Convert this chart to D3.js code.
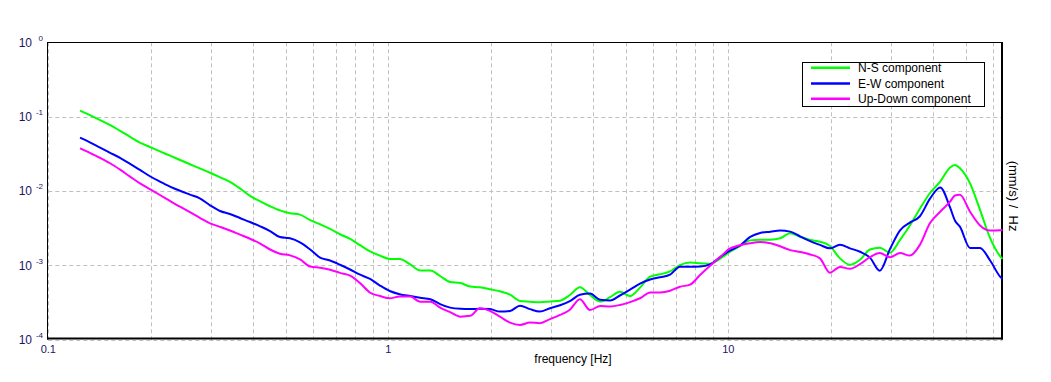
<!DOCTYPE html>
<html>
<head>
<meta charset="utf-8">
<script src="https://cdn.jsdelivr.net/npm/d3@7"></script>
<style>
  body { margin: 0; background: #fff; }
  text { font-family: Arial, "Liberation Sans", sans-serif; }
</style>
</head>
<body>
<svg id="chart" width="1051" height="382"></svg>
<script>
// frequencies shared by the three spectra [Hz]
const freq = [0.124, 0.133, 0.142, 0.152, 0.163, 0.174, 0.186, 0.199, 0.213, 0.228,
  0.244, 0.261, 0.279, 0.299, 0.320, 0.342, 0.366, 0.392, 0.420, 0.449,
  0.480, 0.514, 0.550, 0.589, 0.630, 0.674, 0.721, 0.772, 0.826, 0.884,
  0.945, 1.01, 1.08, 1.16, 1.24, 1.33, 1.42, 1.52, 1.63, 1.74,
  1.86, 1.99, 2.13, 2.28, 2.44, 2.61, 2.79, 2.99, 3.20, 3.42,
  3.66, 3.92, 4.20, 4.49, 4.80, 5.14, 5.50, 5.89, 6.30, 6.74,
  7.21, 7.72, 8.26, 8.84, 9.46, 10.1, 10.8, 11.6, 12.4, 13.3,
  14.2, 15.2, 16.3, 17.4, 18.6, 19.9, 21.3, 22.8, 24.4, 26.1,
  27.9, 29.9, 32.0, 34.2, 36.6, 39.2, 42.0, 44.9, 46.4, 48.0,
  51.4, 55.0, 58.9, 63.0, 64.0];

// N-S component (mm/s)/Hz
const nsValues = [0.120, 0.104, 0.0896, 0.0765, 0.0637, 0.0532, 0.0445, 0.0389, 0.0339, 0.0297,
  0.0260, 0.0228, 0.0200, 0.0175, 0.0152, 0.0132, 0.0108, 0.00856, 0.00720, 0.00620,
  0.00545, 0.00499, 0.00478, 0.00402, 0.00354, 0.00308, 0.00260, 0.00225, 0.00185, 0.00153,
  0.00134, 0.00121, 0.00121, 0.00102, 0.000845, 0.000842, 0.000712, 0.000591, 0.000573, 0.000513,
  0.000502, 0.000472, 0.000443, 0.000399, 0.000328, 0.000321, 0.000315, 0.000323, 0.000331, 0.000395,
  0.000502, 0.000395, 0.000322, 0.000369, 0.000438, 0.000381, 0.000497, 0.000697, 0.000751, 0.000821,
  0.00100, 0.00108, 0.00106, 0.00104, 0.00122, 0.00150, 0.00178, 0.00215, 0.00220, 0.00220,
  0.00229, 0.00268, 0.00239, 0.00218, 0.00206, 0.00181, 0.00123, 0.00101, 0.00118, 0.00162,
  0.00171, 0.00147, 0.00218, 0.00341, 0.00574, 0.00934, 0.0133, 0.0206, 0.0223, 0.0201,
  0.0126, 0.00553, 0.00231, 0.00132, 0.00121];

// E-W component
const ewValues = [0.0519, 0.0445, 0.0381, 0.0325, 0.0276, 0.0231, 0.0191, 0.0157, 0.0133, 0.0114,
  0.0100, 0.00889, 0.00793, 0.00638, 0.00535, 0.00487, 0.00430, 0.00380, 0.00332, 0.00287,
  0.00238, 0.00229, 0.00202, 0.00162, 0.00126, 0.00115, 0.00101, 0.000871, 0.000741, 0.000649,
  0.000530, 0.000447, 0.000405, 0.000382, 0.000363, 0.000346, 0.000298, 0.000267, 0.000257, 0.000255,
  0.000258, 0.000255, 0.000236, 0.000241, 0.000283, 0.000255, 0.000236, 0.000262, 0.000287, 0.000326,
  0.000398, 0.000413, 0.000340, 0.000334, 0.000389, 0.000466, 0.000561, 0.000639, 0.000684, 0.000741,
  0.000950, 0.000950, 0.000956, 0.00102, 0.00128, 0.00156, 0.00182, 0.00239, 0.00270, 0.00281,
  0.00291, 0.00282, 0.00242, 0.00210, 0.00187, 0.00168, 0.00187, 0.00168, 0.00151, 0.00126,
  0.000839, 0.00165, 0.00294, 0.00372, 0.00454, 0.00785, 0.0111, 0.00596, 0.00399, 0.00329,
  0.00170, 0.00170, 0.00115, 0.000699, 0.000649];

// Up-Down component
const udValues = [0.0374, 0.0322, 0.0278, 0.0235, 0.0191, 0.0155, 0.0126, 0.0105, 0.00878, 0.00731,
  0.00611, 0.00515, 0.00433, 0.00365, 0.00327, 0.00292, 0.00257, 0.00226, 0.00195, 0.00162,
  0.00142, 0.00135, 0.00119, 0.000956, 0.000921, 0.000866, 0.000784, 0.000719, 0.000571, 0.000424,
  0.000383, 0.000357, 0.000377, 0.000377, 0.000321, 0.000321, 0.000267, 0.000232, 0.000202, 0.000207,
  0.000262, 0.000242, 0.000202, 0.000168, 0.000156, 0.000168, 0.000165, 0.000187, 0.000213, 0.000250,
  0.000346, 0.000248, 0.000281, 0.000277, 0.000290, 0.000317, 0.000357, 0.000426, 0.000428, 0.000451,
  0.000511, 0.000544, 0.000735, 0.000977, 0.00128, 0.00166, 0.00185, 0.00197, 0.00204, 0.00196,
  0.00179, 0.00159, 0.00150, 0.00139, 0.00123, 0.000789, 0.000944, 0.000890, 0.00103, 0.00128,
  0.00145, 0.00127, 0.00145, 0.00134, 0.00187, 0.00368, 0.00523, 0.00713, 0.00865, 0.00883,
  0.00523, 0.00341, 0.00292, 0.00294, 0.00296];

const seriesNames = ["N-S component", "E-W component", "Up-Down component"];
const seriesColors = ["#00ff00", "#0000ff", "#ff00ff"];
const xTickValues = [0.1, 1, 10];
const xTickLabels = ["0.1", "1", "10"];
const yExponents = [0, -1, -2, -3, -4];

const svg = d3.select("#chart");
const plot = { left: 48.3, right: 1002.4, top: 42.3, bottom: 339.3 };

const x = d3.scaleLog().domain([0.1, 64]).range([plot.left, plot.right]);
const y = d3.scaleLog().domain([1e-4, 1]).range([plot.bottom, plot.top]);

svg.append("rect").attr("width", 1051).attr("height", 382).attr("fill", "#fff");

// grille pointillée
const grid = svg.append("g")
  .attr("stroke", "#c0c0c0")
  .attr("stroke-width", 1)
  .attr("stroke-dasharray", "4,3");

grid.selectAll("line.vx")
  .data(x.ticks())
  .enter().append("line")
  .attr("class", "vx")
  .attr("x1", d => Math.round(x(d)) + 0.5)
  .attr("x2", d => Math.round(x(d)) + 0.5)
  .attr("y1", plot.top)
  .attr("y2", plot.bottom + 1);

grid.selectAll("line.hy")
  .data(yExponents.map(e => Math.pow(10, e)).filter(v => v < 1))
  .enter().append("line")
  .attr("class", "hy")
  .attr("x1", plot.left)
  .attr("x2", plot.right)
  .attr("y1", d => Math.round(y(d)) + 0.5 + (d === 1e-4 ? 1 : 0))
  .attr("y2", d => Math.round(y(d)) + 0.5 + (d === 1e-4 ? 1 : 0));

// frame
const frame = svg.append("g").attr("stroke", "#000").attr("fill", "none");
frame.append("line").attr("x1", 47.5).attr("x2", 1002).attr("y1", 42.5).attr("y2", 42.5).attr("stroke-width", 1);
frame.append("line").attr("x1", 47.5).attr("x2", 47.5).attr("y1", 42).attr("y2", 339.5).attr("stroke-width", 1);
frame.append("line").attr("x1", 1002).attr("x2", 1002).attr("y1", 42).attr("y2", 339.5).attr("stroke-width", 2);
frame.append("line").attr("x1", 47).attr("x2", 1003).attr("y1", 338.5).attr("y2", 338.5).attr("stroke-width", 2);

// curves
const line = d3.line()
  .x(d => x(d[0]))
  .y(d => y(d[1]))
  .curve(d3.curveMonotoneX);

[nsValues, ewValues, udValues].forEach((vals, i) => {
  svg.append("path")
    .datum(freq.map((f, j) => [f, vals[j]]))
    .attr("fill", "none")
    .attr("stroke", seriesColors[i])
    .attr("stroke-width", 2)
    .attr("stroke-linejoin", "round")
    .attr("d", line);
});

// axis labels
const tickColor = "#1e1466";
svg.selectAll("text.xt")
  .data(xTickValues)
  .enter().append("text")
  .attr("class", "xt")
  .attr("x", d => x(d))
  .attr("y", 353)
  .attr("text-anchor", "middle")
  .attr("font-size", 11)
  .attr("fill", tickColor)
  .text((d, i) => xTickLabels[i]);

const yt = svg.selectAll("g.yt")
  .data(yExponents)
  .enter().append("g")
  .attr("class", "yt")
  .attr("transform", d => `translate(0,${y(Math.pow(10, d))})`);
yt.append("text")
  .attr("x", 32)
  .attr("y", 4.5)
  .attr("text-anchor", "end")
  .attr("font-size", 12)
  .attr("fill", tickColor)
  .text("10");
yt.append("text")
  .attr("x", 43)
  .attr("y", -1.5)
  .attr("text-anchor", "end")
  .attr("font-size", 8)
  .attr("fill", tickColor)
  .text(d => d === 0 ? "0" : "-" + Math.abs(d));

svg.append("text")
  .attr("x", 573)
  .attr("y", 363)
  .attr("text-anchor", "middle")
  .attr("font-size", 12)
  .attr("fill", "#000")
  .text("frequency [Hz]");

svg.append("text")
  .attr("transform", "translate(1014,196) rotate(90)")
  .attr("text-anchor", "middle")
  .attr("dy", "0.35em")
  .attr("font-size", 13)
  .attr("fill", "#000")
  .style("white-space", "pre")
  .text("(mm/s) /  Hz");

// legend
const legend = svg.append("g");
legend.append("rect")
  .attr("x", 802.5).attr("y", 62.5)
  .attr("width", 182).attr("height", 44)
  .attr("fill", "#fff").attr("stroke", "#000");
const rows = legend.selectAll("g.row")
  .data(seriesNames)
  .enter().append("g")
  .attr("class", "row")
  .attr("transform", (d, i) => `translate(0,${[67.8, 83.5, 98.8][i]})`);
rows.append("line")
  .attr("x1", 811).attr("x2", 850)
  .attr("stroke", (d, i) => seriesColors[i])
  .attr("stroke-width", 2.5);
rows.append("text")
  .attr("x", 858).attr("y", 4.3)
  .attr("font-size", 12)
  .attr("fill", "#000")
  .text(d => d);
</script>
</body>
</html>
